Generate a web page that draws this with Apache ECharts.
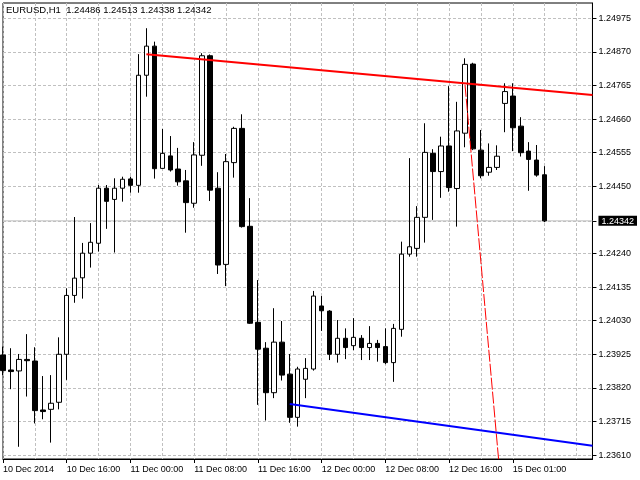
<!DOCTYPE html>
<html>
<head>
<meta charset="utf-8">
<title>EURUSD,H1</title>
<script src="https://cdn.jsdelivr.net/npm/echarts@6/dist/echarts.min.js"></script>
<style>
html, body { margin: 0; padding: 0; background: #fff; }
#chart { width: 640px; height: 480px; }
</style>
</head>
<body>
<div id="chart"></div>
<script>
// EURUSD H1 bars
var openData = [1.23923, 1.23876, 1.23873, 1.23909, 1.23904, 1.23751, 1.23753, 1.23775, 1.23925, 1.24109,
	1.24164, 1.24241, 1.24272, 1.24444, 1.24409, 1.24444, 1.24473, 1.24453, 1.24797, 1.24888,
	1.24506, 1.24545, 1.24504, 1.24467, 1.24397, 1.24547, 1.24858, 1.24444, 1.24206, 1.24524,
	1.24631, 1.24325, 1.24025, 1.23944, 1.23805, 1.23963, 1.23863, 1.23728, 1.23847, 1.23879,
	1.24076, 1.24060, 1.23925, 1.23975, 1.23952, 1.23975, 1.23946, 1.23959, 1.23949, 1.23899,
	1.24003, 1.24238, 1.24256, 1.24353, 1.24553, 1.24496, 1.24576, 1.24443, 1.24616, 1.24832,
	1.24563, 1.24494, 1.24509, 1.24709, 1.24732, 1.24638, 1.24560, 1.24532, 1.24486];
var highData = [1.23949, 1.23944, 1.23926, 1.23988, 1.23947, 1.23857, 1.23860, 1.23978, 1.24131, 1.24354,
	1.24273, 1.24335, 1.24454, 1.24454, 1.24475, 1.24480, 1.24480, 1.24863, 1.24944, 1.24902,
	1.24629, 1.24607, 1.24570, 1.24501, 1.24588, 1.24866, 1.24862, 1.24494, 1.24551, 1.24636,
	1.24675, 1.24413, 1.24157, 1.23963, 1.24069, 1.24029, 1.23926, 1.23886, 1.23913, 1.24123,
	1.24107, 1.24063, 1.24032, 1.24006, 1.24038, 1.23985, 1.24013, 1.23970, 1.24006, 1.24020,
	1.24277, 1.24538, 1.24388, 1.24647, 1.24566, 1.24605, 1.24763, 1.24714, 1.24850, 1.24836,
	1.24626, 1.24584, 1.24578, 1.24772, 1.24772, 1.24666, 1.24588, 1.24579, 1.24513];
var lowData = [1.23860, 1.23816, 1.23636, 1.23793, 1.23709, 1.23722, 1.23649, 1.23753, 1.23845, 1.24086,
	1.24099, 1.24196, 1.24246, 1.24317, 1.24243, 1.24402, 1.24430, 1.24430, 1.24730, 1.24474,
	1.24505, 1.24496, 1.24452, 1.24305, 1.24383, 1.24514, 1.24404, 1.24176, 1.24138, 1.24477,
	1.24321, 1.24020, 1.23767, 1.23718, 1.23788, 1.23843, 1.23711, 1.23699, 1.23788, 1.23874,
	1.23998, 1.23907, 1.23899, 1.23910, 1.23938, 1.23907, 1.23907, 1.23902, 1.23894, 1.23839,
	1.23980, 1.24230, 1.24230, 1.24274, 1.24345, 1.24414, 1.24433, 1.24324, 1.24572, 1.24563,
	1.24475, 1.24483, 1.24501, 1.24619, 1.24560, 1.24543, 1.24436, 1.24480, 1.24338];
var closeData = [1.23874, 1.23871, 1.23909, 1.23905, 1.23749, 1.23746, 1.23772, 1.23925, 1.24109, 1.24163,
	1.24241, 1.24275, 1.24444, 1.24403, 1.24444, 1.24472, 1.24453, 1.24797, 1.24888, 1.24505,
	1.24553, 1.24501, 1.24464, 1.24399, 1.24548, 1.24858, 1.24438, 1.24204, 1.24527, 1.24631,
	1.24324, 1.24022, 1.23941, 1.23805, 1.23963, 1.23860, 1.23728, 1.23879, 1.23881, 1.24107,
	1.24061, 1.23925, 1.23975, 1.23946, 1.23978, 1.23946, 1.23959, 1.23946, 1.23899, 1.24006,
	1.24238, 1.24261, 1.24353, 1.24556, 1.24496, 1.24576, 1.24446, 1.24623, 1.24831, 1.24567,
	1.24483, 1.24509, 1.24544, 1.24746, 1.24633, 1.24555, 1.24534, 1.24485, 1.24342];

var slotCount = 75; // bars plus the empty shift on the right
var timeLabels = ['10 Dec 2014', '10 Dec 16:00', '11 Dec 00:00', '11 Dec 08:00', '11 Dec 16:00',
	'12 Dec 00:00', '12 Dec 08:00', '12 Dec 16:00', '15 Dec 01:00'];
var priceTicks = [1.23610, 1.23715, 1.23820, 1.23925, 1.24030, 1.24135, 1.24240,
	1.24450, 1.24555, 1.24660, 1.24765, 1.24870, 1.24975];
var lastPrice = 1.24342;

// trend lines: [bar index, price]
var redTrend = [[18, 1.24863], [74, 1.24735]];
var blueTrend = [[36, 1.23770], [74, 1.23639]];
var redDashed = [[58, 1.24767], [63, 1.23379]];

var categories = [];
for (var i = 0; i < slotCount; i++) categories.push(String(i));

var candles = openData.map(function (o, i) {
	return [o, closeData[i], lowData[i], highData[i]];
});

var last = openData.length - 1;
var titleText = 'EURUSD,H1  ' + [openData[last], highData[last], lowData[last], closeData[last]]
	.map(function (v) { return v.toFixed(5); }).join(' ');

var labelValues = priceTicks.concat([lastPrice]).sort();
var bidLine = [[0, lastPrice], [slotCount - 1, lastPrice]];

function isTimeTick(i) {
	return i % 8 === 0 && i / 8 < timeLabels.length;
}

var myChart = echarts.init(document.getElementById('chart'));
var option = {
	animation: false,
	backgroundColor: '#fff',
	textStyle: { fontFamily: 'Liberation Sans' },
	title: {
		text: titleText,
		left: 6,
		top: 5,
		padding: 0,
		textStyle: { fontSize: 9.5, fontWeight: 'normal', color: '#000', fontFamily: 'Liberation Sans' }
	},
	grid: {
		left: 2,
		right: 43,
		top: 3,
		bottom: 21,
		show: true,
		borderColor: '#000',
		borderWidth: 1,
		backgroundColor: '#fff'
	},
	xAxis: {
		type: 'category',
		data: categories,
		boundaryGap: false,
		axisLine: { show: true, lineStyle: { color: '#000' } },
		axisTick: { show: true, length: 4, interval: isTimeTick, lineStyle: { color: '#000' } },
		axisLabel: {
			interval: isTimeTick,
			align: 'left',
			margin: 6,
			fontSize: 9,
			color: '#000',
			formatter: function (v, i) { return timeLabels[i / 8] || ''; }
		},
		splitLine: {
			show: true,
			interval: function (i) { return i % 4 === 0; },
			lineStyle: { color: '#c0c0c0', type: [3, 2] }
		}
	},
	yAxis: {
		type: 'value',
		position: 'right',
		min: 1.235978,
		max: 1.250228,
		axisLine: { show: true, lineStyle: { color: '#000' } },
		axisTick: { show: true, length: 4, customValues: labelValues, lineStyle: { color: '#000' } },
		axisLabel: {
			customValues: labelValues,
			margin: 6,
			fontSize: 9,
			color: '#000',
			formatter: function (v) {
				var s = v.toFixed(5);
				return Math.abs(v - lastPrice) < 1e-7 ? '{cur|' + s + '}' : s;
			},
			rich: {
				cur: { color: '#fff', backgroundColor: '#000', fontSize: 9, padding: [1, 3, 0, 3], lineHeight: 9 }
			}
		},
		splitLine: { show: true, lineStyle: { color: '#c0c0c0', type: [3, 2] } }
	},
	series: [
		{
			type: 'line',
			data: bidLine,
			symbol: 'none',
			silent: true,
			z: 1,
			lineStyle: { color: '#c0c0c0', width: 1 }
		},
		{
			type: 'candlestick',
			data: candles,
			barWidth: 5,
			z: 3,
			silent: true,
			itemStyle: {
				color: '#fff',
				color0: '#000',
				borderColor: '#000',
				borderColor0: '#000',
				borderWidth: 1
			}
		},
		{
			type: 'line',
			data: redTrend,
			symbol: 'none',
			silent: true,
			z: 4,
			lineStyle: { color: '#ff0000', width: 2 }
		},
		{
			type: 'line',
			data: blueTrend,
			symbol: 'none',
			silent: true,
			z: 4,
			lineStyle: { color: '#0000ff', width: 2 }
		},
		{
			type: 'line',
			data: redDashed,
			symbol: 'none',
			silent: true,
			z: 4,
			lineStyle: { color: '#ff0000', width: 1, type: [12, 2] }
		}
	]
};
myChart.setOption(option, true);
</script>
</body>
</html>
